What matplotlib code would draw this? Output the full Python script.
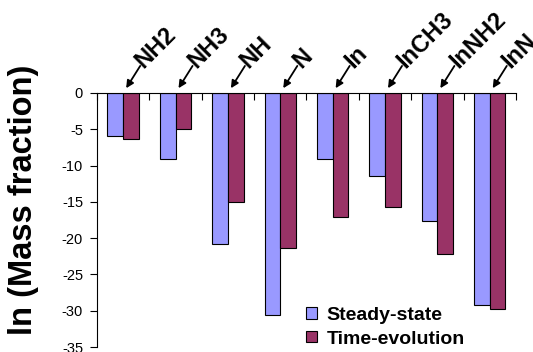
import numpy as np
import matplotlib

matplotlib.use("Agg")
import matplotlib.pyplot as plt

plt.rcParams["font.family"] = ["Liberation Sans", "DejaVu Sans"]

species = ["NH2", "NH3", "NH", "N", "In", "InCH3", "InNH2", "InN"]
steady_state = [-5.9, -9.1, -20.8, -30.6, -9.1, -11.4, -17.6, -29.2]
time_evolution = [-6.4, -5.0, -15.0, -21.3, -17.1, -15.7, -22.2, -29.7]
yticks = [0, -5, -10, -15, -20, -25, -30, -35]

BLUE = "#9999FF"
PLUM = "#993366"

fig = plt.figure(figsize=(5.33, 3.52), dpi=100)
ax = fig.add_axes([0.182, 0.014, 0.786, 0.722])

x = np.arange(len(species))
w = 0.3
ax.bar(x - w / 2, steady_state, w, color=BLUE, edgecolor="black",
       linewidth=0.8, label="Steady-state")
ax.bar(x + w / 2, time_evolution, w, color=PLUM, edgecolor="black",
       linewidth=0.8, label="Time-evolution")

ax.set_xlim(-0.5, len(species) - 0.5)
ax.set_ylim(-35, 0)
ax.set_yticks(yticks)
ax.set_yticklabels([str(t) for t in yticks], fontsize=10.5)
ax.tick_params(axis="y", direction="out", length=5, width=0.8, pad=5)

# x axis drawn at y=0 (top), ticks at category boundaries pointing down
ax.xaxis.tick_top()
ax.set_xticks(np.arange(len(species) + 1) - 0.5)
ax.set_xticklabels([])
ax.tick_params(axis="x", direction="in", length=5, width=0.8)
for s in ["right", "bottom"]:
    ax.spines[s].set_visible(False)
ax.spines["top"].set_linewidth(0.8)
ax.spines["left"].set_linewidth(0.8)

ax.set_ylabel("ln (Mass fraction)", fontsize=23.5, fontweight="bold")
ax.yaxis.set_label_coords(-0.138, 0.58)

for i, name in enumerate(species):
    # arrow pointing down-left to the top of each bar pair
    ax.annotate("", xy=(i, 0), xytext=(17, 27), textcoords="offset pixels",
                annotation_clip=False,
                arrowprops=dict(arrowstyle="-|>", color="black", lw=1.3,
                                shrinkA=0, shrinkB=4, mutation_scale=11))
    ax.annotate(name, xy=(i, 0), xytext=(16, 29), textcoords="offset pixels",
                rotation=45, rotation_mode="anchor", ha="left", va="center",
                fontsize=17, fontweight="bold", annotation_clip=False)

leg = ax.legend(loc="lower left", bbox_to_anchor=(0.476, -0.04), frameon=False,
                prop={"size": 14, "weight": "bold"}, handlelength=0.55,
                handleheight=0.55, handletextpad=0.5, labelspacing=0.35,
                borderpad=0)

fig.savefig("out.png", dpi=100, facecolor="white")
